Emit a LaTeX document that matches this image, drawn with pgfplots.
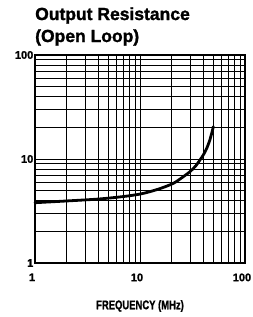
\documentclass[border=0pt]{standalone}
\usepackage{pgfplots}
\pgfplotsset{compat=1.18}
\usepackage{fontspec}
\setmainfont{Liberation Sans}
\newfontfamily\heavyfont[FakeBold=1.5]{Liberation Sans Bold}
\begin{document}
\begin{tikzpicture}
\useasboundingbox (-35pt,-54pt) rectangle (218pt,263pt);
\begin{axis}[
  scale only axis,
  width=210pt, height=208pt,
  xmode=log, ymode=log,
  xmin=1, xmax=100, ymin=1, ymax=100,
  xtick={1,10,100}, xticklabels={1,10,100},
  ytick={1,10,100}, yticklabels={1,10,100},
  minor xtick={2,3,4,5,6,7,8,9,20,30,40,50,60,70,80,90},
  minor ytick={2,3,4,5,6,7,8,9,20,30,40,50,60,70,80,90},
  grid=both,
  major grid style={black, line width=0.85pt},
  minor grid style={black, line width=0.85pt},
  major tick length=0pt, minor tick length=0pt,
  axis line style={black, line width=1.3pt},
  /pgf/number format/assume math mode=true,
  tick label style={font=\fontsize{11}{12}\selectfont\heavyfont},
  yticklabel style={inner sep=1.5pt},
  xticklabel style={yshift=-7pt, xshift=-3pt},
  xlabel={\scalebox{0.9}[1.2]{\fontsize{10.5}{12}\selectfont\heavyfont FREQUENCY (MHz)}},
  xlabel style={at={(axis description cs:0.5,0)}, anchor=center, yshift=-43pt},
  clip=false,
]
\addplot[black, line width=2.8pt, smooth, line cap=round] coordinates {
 (1,3.8) (2,3.95) (4,4.12) (7,4.36) (10,4.6) (12.4,4.85) (16,5.25) (20.8,5.84)
 (25,6.6) (29.9,7.55) (34,8.6) (37.3,9.8) (40,10.9) (43.1,12.6) (46.5,15.5) (50,20.5)
};
\node[anchor=base west, inner sep=0pt, font=\fontsize{17.5}{20}\selectfont\heavyfont] at (rel axis cs:0,1) [yshift=35pt] {Output Resistance};
\node[anchor=base west, inner sep=0pt, font=\fontsize{17.5}{20}\selectfont\heavyfont] at (rel axis cs:0,1) [yshift=13pt] {(Open Loop)};
\end{axis}
\end{tikzpicture}
\end{document}
